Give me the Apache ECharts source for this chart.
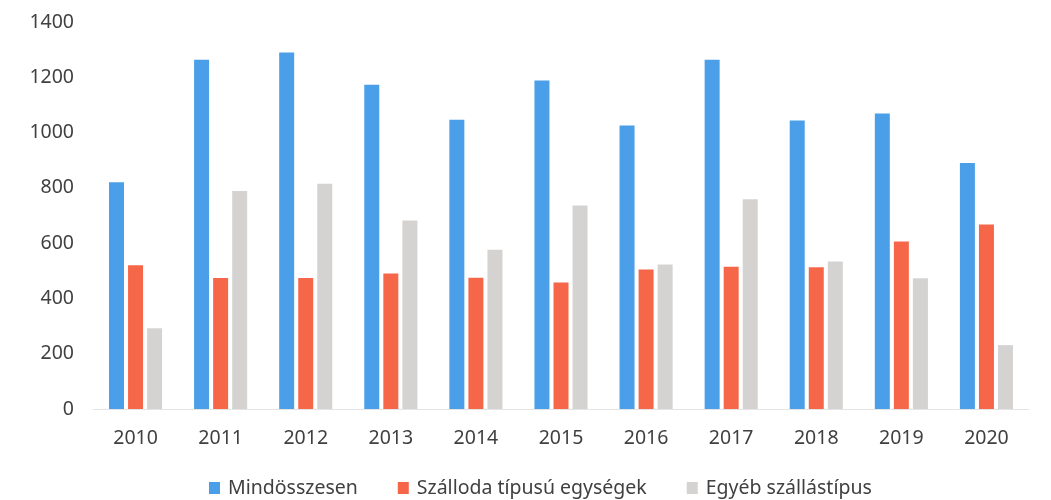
<!DOCTYPE html>
<html>
<head>
<meta charset="utf-8">
<script src="https://cdn.jsdelivr.net/npm/echarts@6/dist/echarts.min.js"></script>
<style>html,body{margin:0;padding:0;background:#fff}#c{width:1051px;height:500px}</style>
</head>
<body>
<div id="c"></div>
<script>
const years = ['2010','2011','2012','2013','2014','2015','2016','2017','2018','2019','2020'];
const total = [820, 1263, 1290, 1173, 1046, 1188, 1026, 1263, 1044, 1069, 890];
const hotel = [520, 474, 474, 490, 475, 458, 505, 515, 513, 606, 667];
const other = [292, 789, 815, 682, 576, 736, 523, 759, 534, 473, 231];
const seriesNames = ['Mindösszesen', 'Szálloda típusú egységek', 'Egyéb szállástípus'];
const colors = ['#4A9FE8', '#F6674A', '#D5D3D1'];

const font = 'Noto Sans';
const chart = echarts.init(document.getElementById('c'));
chart.setOption({
  animation: false,
  color: colors,
  grid: { left: 93, right: 22, top: 22, bottom: 91 },
  legend: {
    top: 473, left: 204,
    itemWidth: 11, itemHeight: 12, itemGap: 40,
    icon: 'rect',
    textStyle: { fontFamily: font, fontSize: 19.5, color: '#404040', padding: [0, 0, 0, 3] },
    data: seriesNames
  },
  xAxis: {
    type: 'category', data: years,
    axisLine: { lineStyle: { color: '#e4e4e4' } },
    axisTick: { show: false },
    axisLabel: { fontFamily: font, fontSize: 19.5, color: '#404040', margin: 19 }
  },
  yAxis: {
    type: 'value', min: 0, max: 1400, interval: 200,
    splitLine: { show: false },
    axisLine: { show: false }, axisTick: { show: false },
    axisLabel: { fontFamily: font, fontSize: 19.5, color: '#404040', margin: 19, formatter: v => String(v) }
  },
  series: [
    { name: seriesNames[0], type: 'bar', data: total, barWidth: 15, barGap: '27%' },
    { name: seriesNames[1], type: 'bar', data: hotel, barWidth: 15, barGap: '27%' },
    { name: seriesNames[2], type: 'bar', data: other, barWidth: 15, barGap: '27%' }
  ]
});
</script>
</body>
</html>
